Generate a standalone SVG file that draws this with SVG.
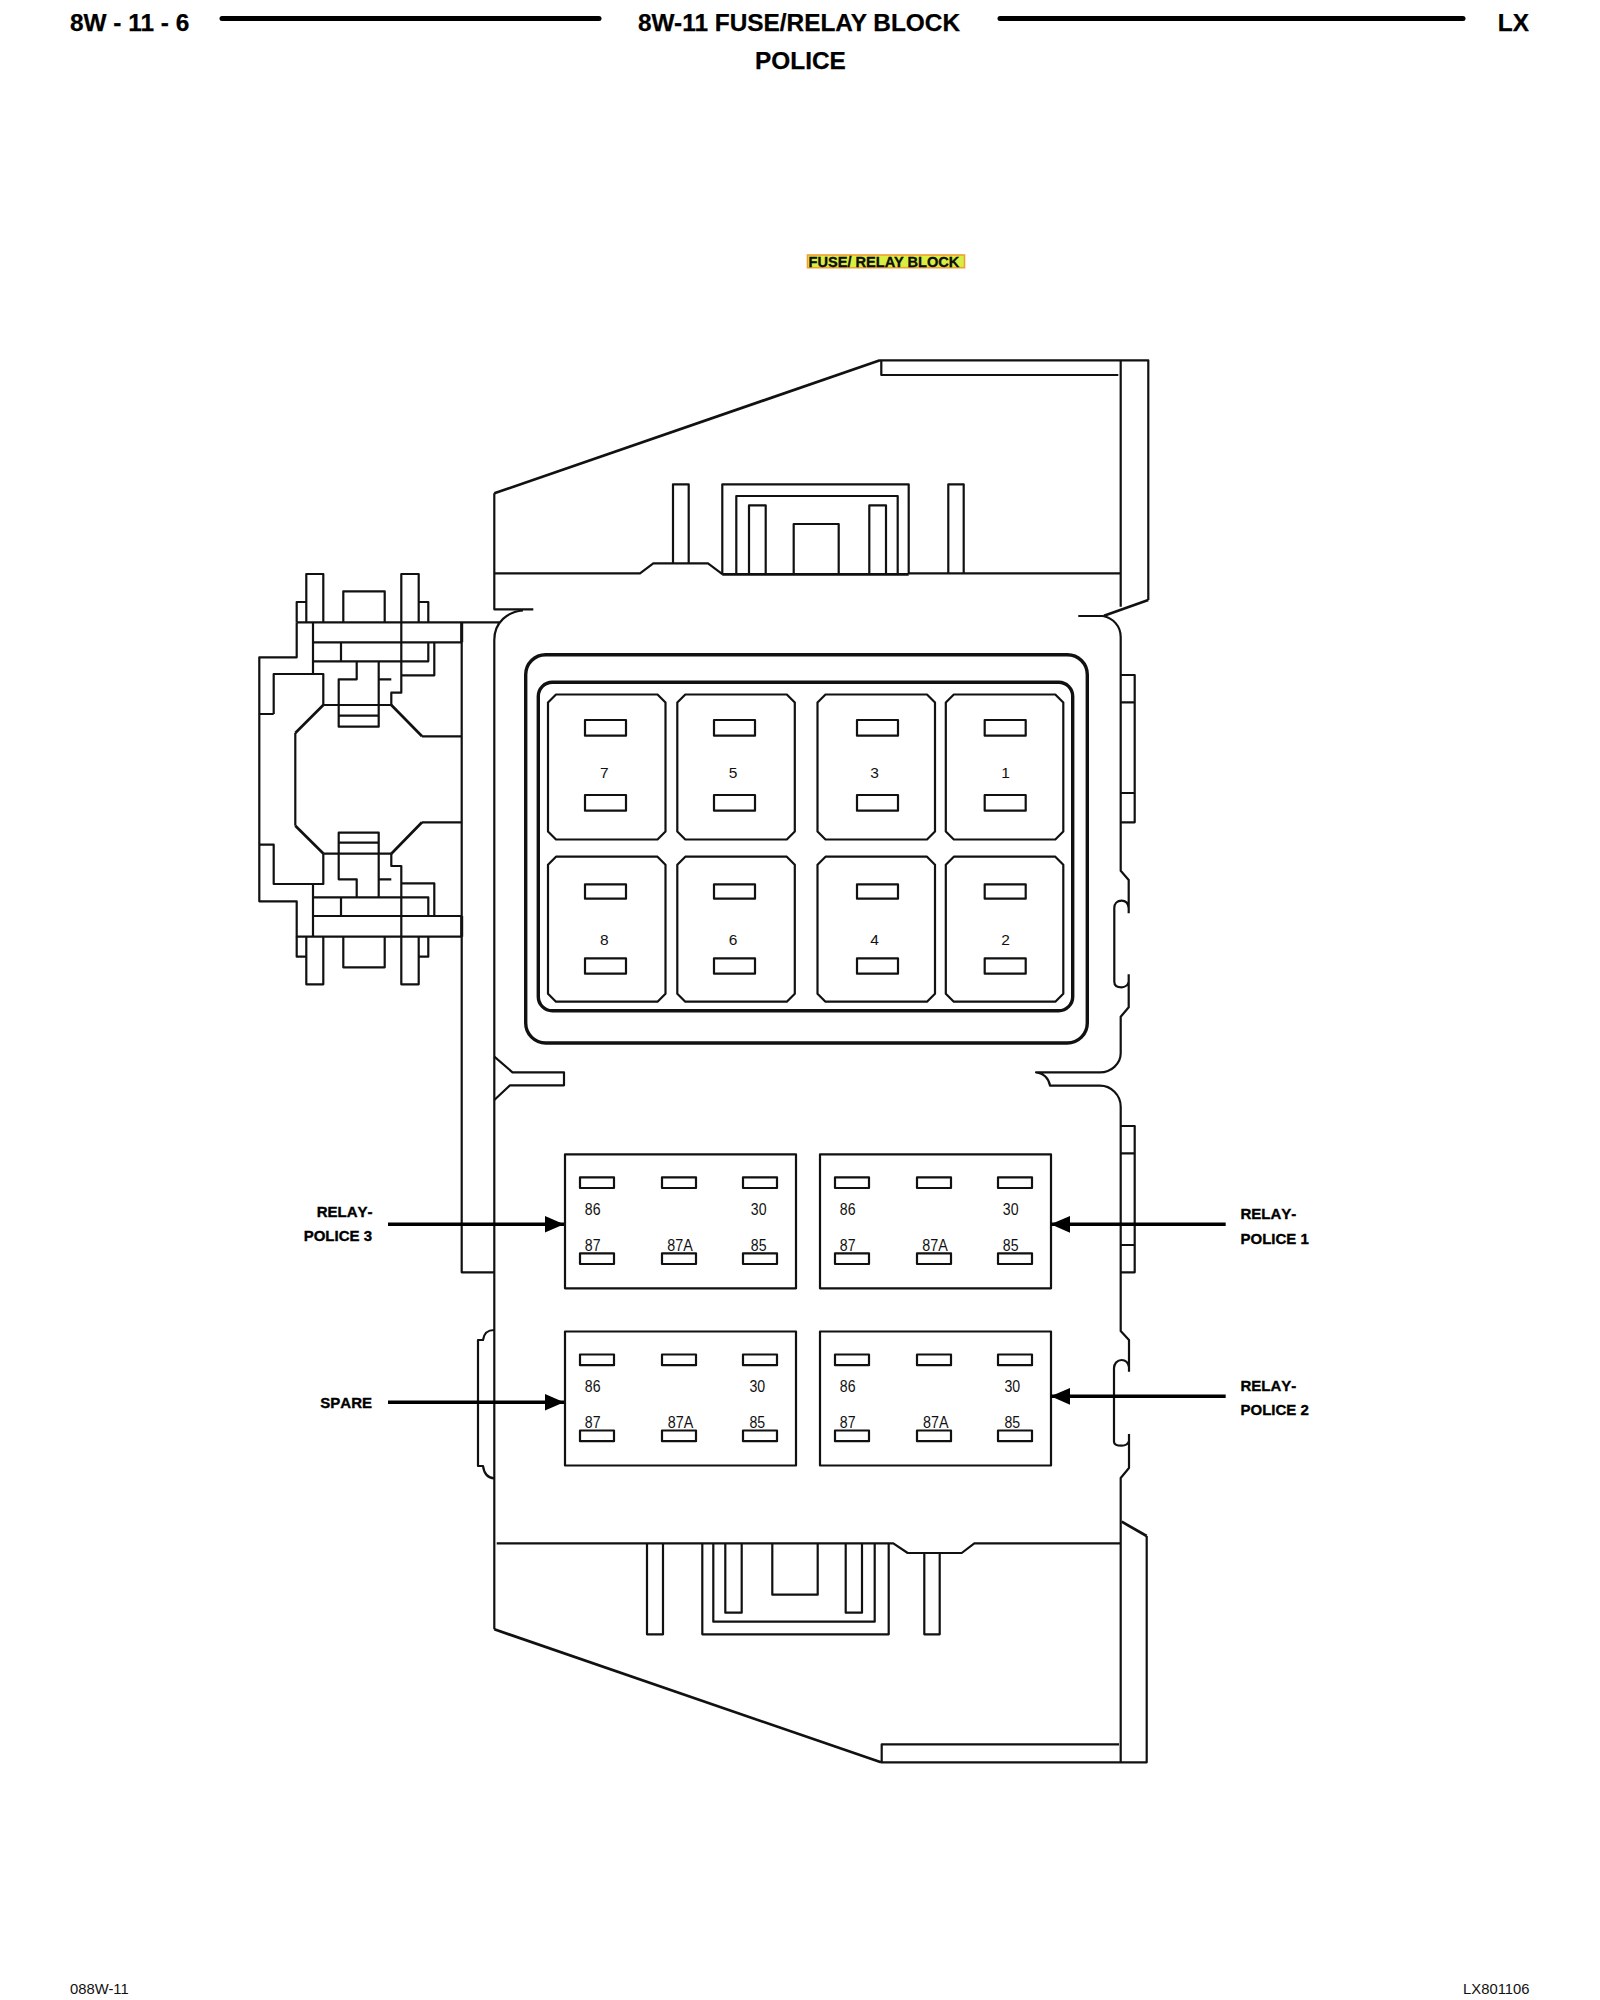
<svg xmlns="http://www.w3.org/2000/svg" width="1600" height="2000" viewBox="0 0 1600 2000">
<style>
text{font-family:"Liberation Sans",Arial,sans-serif;fill:#111}
.t{font-weight:700;font-size:24.4px;fill:#000;stroke:#000;stroke-width:.25}
.lb{font-weight:700;font-size:15px;font-kerning:none;fill:#000;stroke:#000;stroke-width:.35}
.n{font-size:16px;text-anchor:middle}
.f{font-size:15.5px;text-anchor:middle}
.foot{font-size:14.8px}
.l{fill:none;stroke:#111;stroke-width:2.2;stroke-linejoin:round}
.d{fill:none;stroke:#111;stroke-width:2.7;stroke-linejoin:round}
.hv{fill:none;stroke:#111;stroke-width:3.4}
.rule{stroke:#000;stroke-width:5;stroke-linecap:round}
.arrow{stroke:#000;stroke-width:3.6;fill:none;marker-end:url(#head)}
</style>
<defs>
<marker id="head" markerUnits="userSpaceOnUse" markerWidth="20" markerHeight="18" refX="19.5" refY="8.5" orient="auto"><path d="M0 0L19.5 8.5L0 17Z" fill="#000"/></marker>
<path id="fuse-shape" class="l" d="M8 0H109.5L117.5 8V137L109.5 145H8L0 137V8Z"/>
<g id="relay-shape">
<rect class="l" width="231" height="134"/>
<rect class="l" x="15" y="23" width="34" height="10.7"/><rect class="l" x="97" y="23" width="34" height="10.7"/><rect class="l" x="178" y="23" width="34" height="10.7"/>
<rect class="l" x="15" y="99" width="34" height="10.7"/><rect class="l" x="97" y="99" width="34" height="10.7"/><rect class="l" x="178" y="99" width="34" height="10.7"/>
</g>
</defs>
<rect width="1600" height="2000" fill="#fff"/>

<g id="header">
<text class="t" x="70" y="31">8W - 11 - 6</text>
<line class="rule" x1="222" y1="18.5" x2="599" y2="18.5"/>
<text class="t" x="799" y="31" text-anchor="middle">8W-11 FUSE/RELAY BLOCK</text>
<line class="rule" x1="1000" y1="18.5" x2="1463" y2="18.5"/>
<text class="t" x="1529" y="31" text-anchor="end">LX</text>
<text class="t" x="800.5" y="69" text-anchor="middle">POLICE</text>
</g>

<g id="title">
<rect x="807.5" y="255" width="157" height="12.7" fill="#d8ee40" stroke="#f0a030" stroke-width="1.6"/>
<text x="808.5" y="267" font-size="14.6" font-weight="700" stroke="#000" stroke-width=".3">FUSE/ RELAY BLOCK</text>
</g>

<g id="housing">
<path class="l" d="M1148.3 600V360.300H880"/>
<path class="d" d="M880 360.300L494.300 493.300"/>
<path class="l" d="M494.300 493.300V609.300H533.300"/>
<path class="d" d="M1148.300 600L1104 615.700"/>
<path class="l" d="M1120.700 360.300V606.700M881.300 360.300V375H1118.300"/>
<path class="l" d="M494.300 573.300H640L653.300 563.300H708L722.700 574.300"/>
<path class="l" d="M722.300 574.300V484.300H908.700V574.300M736.300 574V496H897.700V574M749 574V505.300H765.700V574M869.300 574V505.300H886V574M793.700 574V524H838.700V574"/>
<path class="l" d="M673 563.300V484.300H688.700V563.300M948.300 573.300V484.300H963.700V573.300"/>
<path class="hv" style="stroke-width:2.7" d="M722.300 574.300H908.700"/>
<path class="l" d="M908.700 573.300H1120.700"/>

<path class="l" d="M500 622.300H296.700M494.300 1629.300V640C494.300 622 508 611.500 523 610.500"/>
<path class="l" d="M1078.300 616H1103C1113 618 1120.700 626 1120.700 637V870.700L1128.700 880V913.300M1128.700 908C1128 903 1125 900.700 1121.700 900.700C1117 900.700 1114.300 904 1114.300 908V981.700C1114.300 985 1117 987.300 1121.700 987.300C1125 987.300 1128 985 1128.700 981.700M1128.700 974.300V1007.300L1120.700 1016.700V1053.300C1120.700 1064 1111 1072.300 1100 1072.300H1036C1044 1073 1049 1079 1050 1085.700H1100C1111 1085.700 1120.700 1095 1120.700 1106.700V1331L1129 1340V1371.700M1129 1367C1128 1362 1125 1360 1121.700 1360C1117 1360 1114 1364 1114 1368V1441.700C1114 1444 1117 1445.700 1121.700 1445.700C1125 1445.700 1128 1444 1129 1441M1129 1434V1468L1120.700 1478V1762.300"/>
<path class="l" d="M494.300 1056.700L512.500 1072.300H564V1085.300H510L494.300 1100"/>
<path class="l" d="M494.300 1330C487 1330 484 1333 483 1340H478V1466H483C484 1473 487 1478 494.300 1478.300"/>
<path class="l" d="M1120.700 675H1134.700V822.300H1120.700M1120.700 702.300H1134.700M1120.700 793H1134.700"/>
<path class="l" d="M1120.700 1126H1134.700V1272.300H1120.700M1120.700 1153.300H1134.700M1120.700 1245H1134.700"/>
<path class="l" d="M496.700 1543.300H893.300L907.700 1553H961.700L974.300 1543.300H1120.700"/>
<path class="l" d="M647 1543.300V1634.300H663V1543.300M702.300 1543.300V1634.300H888.700V1543.300M713.300 1543.300V1621.700H874.700V1543.300M725.300 1543.300V1612.700H741.700V1543.300M845.700 1543.300V1612.700H862V1543.300M772.300 1543.300V1594.700H817.700V1543.300M924.300 1553V1634.300H939.700V1553"/>
<path class="d" d="M494.300 1629.300L881 1762.300"/>
<path class="l" d="M881 1762.300H1146.700V1536M881.700 1762.300V1744.300H1119"/>
<path class="d" d="M1146.700 1536L1121.700 1521.700"/>
</g>

<g id="side-clip">
<path class="l" d="M461.700 622.300V1272.300H494.300"/>
<path class="l" d="M296.700 622.300V657.300H259.300V901.300H296.700V936.700H461.700"/>
<path class="l" d="M313 622.300V674M273.700 714H259.300M273.700 714V674H323.300V705"/>
<path class="d" d="M323.300 705L295.300 733"/>
<path class="l" d="M295.300 733V825.700"/>
<path class="d" d="M295.300 825.700L323.300 853.500"/>
<path class="l" d="M323.300 853.500V884H273.700V844.700H259.300M313 884V936.700"/>
<path class="l" d="M323.300 705H391.300M323.300 853.700H391.300"/>
<path class="d" d="M391.300 705L422 736.300M391.300 853.700L422 822.300"/>
<path class="l" d="M422 736.300H461.700M422 822.300H461.700"/>
<path class="l" d="M306.300 622V574H323.300V622M401.300 622V574H418.700V622M296.700 622V602H306.300M418.700 602H428.300V622M343.300 622V591.300H384.700V622"/>
<path class="l" d="M313 642.300H461.700M313 661.300H428.300V642.300M341 642.300V661.300M434.300 642.300V675.300H401.300M401.300 622.300V692.700H391.300V705M391.300 679.300H378.700M378.700 661.300V726.700H338.700V679.300H356.700V661.300M338.700 705V726.700M338.700 715.700H378.700"/>
<path class="l" d="M313 916H461.700M313 897.300H428.300V916M341 897.300V916M434.300 916V883.300H401.300M401.300 936.700V866H391.300V853.700M391.300 879.300H378.700M378.700 897.300V832.700H338.700V879.300H356.700V897.300M338.700 842.700H378.700"/>
<path class="l" d="M306.300 936.700V984.300H323.300V936.700M401.300 936.700V984.300H418.700V936.700M296.700 936.700V956.700H306.300M418.700 956.700H428.300V936.700M343.300 936.700V967.300H384.700V936.700"/>
<path class="hv" style="stroke-width:3" d="M461.700 622.300V642.300M461.700 916V936.700"/>
</g>

<g id="fuse-panel">
<rect class="hv" x="525.700" y="654.700" width="561.600" height="388.300" rx="20"/>
<rect class="hv" x="538.300" y="682.300" width="534.400" height="328.400" rx="14"/>
</g>
<g id="fuse-7"><use href="#fuse-shape" x="548" y="694.500"/><rect class="l" x="585" y="720" width="41" height="15.700"/><rect class="l" x="585" y="795" width="41" height="15.700"/><text class="f" x="604.300" y="777.500">7</text></g>
<g id="fuse-5"><use href="#fuse-shape" x="677.300" y="694.500"/><rect class="l" x="714" y="720" width="41" height="15.700"/><rect class="l" x="714" y="795" width="41" height="15.700"/><text class="f" x="733" y="777.500">5</text></g>
<g id="fuse-3"><use href="#fuse-shape" x="817.500" y="694.500"/><rect class="l" x="857" y="720" width="41" height="15.700"/><rect class="l" x="857" y="795" width="41" height="15.700"/><text class="f" x="874.500" y="777.500">3</text></g>
<g id="fuse-1"><use href="#fuse-shape" x="945.800" y="694.500"/><rect class="l" x="984.700" y="720" width="41" height="15.700"/><rect class="l" x="984.700" y="795" width="41" height="15.700"/><text class="f" x="1005.500" y="777.500">1</text></g>
<g id="fuse-8"><use href="#fuse-shape" x="548" y="856.700"/><rect class="l" x="585" y="884.300" width="41" height="14.400"/><rect class="l" x="585" y="958.300" width="41" height="15.400"/><text class="f" x="604.300" y="945">8</text></g>
<g id="fuse-6"><use href="#fuse-shape" x="677.300" y="856.700"/><rect class="l" x="714" y="884.300" width="41" height="14.400"/><rect class="l" x="714" y="958.300" width="41" height="15.400"/><text class="f" x="733" y="945">6</text></g>
<g id="fuse-4"><use href="#fuse-shape" x="817.500" y="856.700"/><rect class="l" x="857" y="884.300" width="41" height="14.400"/><rect class="l" x="857" y="958.300" width="41" height="15.400"/><text class="f" x="874.500" y="945">4</text></g>
<g id="fuse-2"><use href="#fuse-shape" x="945.800" y="856.700"/><rect class="l" x="984.700" y="884.300" width="41" height="14.400"/><rect class="l" x="984.700" y="958.300" width="41" height="15.400"/><text class="f" x="1005.500" y="945">2</text></g>

<g id="relay-police-3"><use href="#relay-shape" x="565" y="1154.300"/>
<text class="n" textLength="15.700" lengthAdjust="spacingAndGlyphs" x="592.700" y="1215">86</text><text class="n" textLength="15.700" lengthAdjust="spacingAndGlyphs" x="758.700" y="1215">30</text><text class="n" textLength="15.700" lengthAdjust="spacingAndGlyphs" x="592.700" y="1251">87</text><text class="n" textLength="25.500" lengthAdjust="spacingAndGlyphs" x="680" y="1251">87A</text><text class="n" textLength="15.700" lengthAdjust="spacingAndGlyphs" x="758.700" y="1251">85</text></g>
<g id="relay-police-1"><use href="#relay-shape" x="820" y="1154.300"/>
<text class="n" textLength="15.700" lengthAdjust="spacingAndGlyphs" x="847.700" y="1215">86</text><text class="n" textLength="15.700" lengthAdjust="spacingAndGlyphs" x="1010.700" y="1215">30</text><text class="n" textLength="15.700" lengthAdjust="spacingAndGlyphs" x="847.700" y="1251">87</text><text class="n" textLength="25.500" lengthAdjust="spacingAndGlyphs" x="935" y="1251">87A</text><text class="n" textLength="15.700" lengthAdjust="spacingAndGlyphs" x="1010.700" y="1251">85</text></g>
<g id="relay-spare"><use href="#relay-shape" x="565" y="1331.500"/>
<text class="n" textLength="15.700" lengthAdjust="spacingAndGlyphs" x="592.700" y="1392">86</text><text class="n" textLength="15.700" lengthAdjust="spacingAndGlyphs" x="757.300" y="1392">30</text><text class="n" textLength="15.700" lengthAdjust="spacingAndGlyphs" x="592.700" y="1428">87</text><text class="n" textLength="25.500" lengthAdjust="spacingAndGlyphs" x="680.500" y="1428">87A</text><text class="n" textLength="15.700" lengthAdjust="spacingAndGlyphs" x="757.300" y="1428">85</text></g>
<g id="relay-police-2"><use href="#relay-shape" x="820" y="1331.500"/>
<text class="n" textLength="15.700" lengthAdjust="spacingAndGlyphs" x="847.700" y="1392">86</text><text class="n" textLength="15.700" lengthAdjust="spacingAndGlyphs" x="1012.300" y="1392">30</text><text class="n" textLength="15.700" lengthAdjust="spacingAndGlyphs" x="847.700" y="1428">87</text><text class="n" textLength="25.500" lengthAdjust="spacingAndGlyphs" x="935.700" y="1428">87A</text><text class="n" textLength="15.700" lengthAdjust="spacingAndGlyphs" x="1012.300" y="1428">85</text></g>

<g id="connectors">
<line class="arrow" x1="388" y1="1224.300" x2="564" y2="1224.300"/>
<line class="arrow" x1="388" y1="1402.300" x2="564" y2="1402.300"/>
<line class="arrow" x1="1225.700" y1="1224.300" x2="1050.700" y2="1224.300"/>
<line class="arrow" x1="1225.700" y1="1396.300" x2="1050.700" y2="1396.300"/>
</g>

<g id="labels">
<text class="lb" x="372.500" y="1217" text-anchor="end">RELAY-</text>
<text class="lb" x="372" y="1241" text-anchor="end">POLICE 3</text>
<text class="lb" x="372" y="1408" text-anchor="end">SPARE</text>
<text class="lb" x="1240.500" y="1219">RELAY-</text>
<text class="lb" x="1240.500" y="1244">POLICE 1</text>
<text class="lb" x="1240.500" y="1391">RELAY-</text>
<text class="lb" x="1240.500" y="1415">POLICE 2</text>
</g>

<g id="footer">
<text class="foot" x="70" y="1994">088W-11</text>
<text class="foot" x="1529.500" y="1994" text-anchor="end">LX801106</text>
</g>
</svg>
